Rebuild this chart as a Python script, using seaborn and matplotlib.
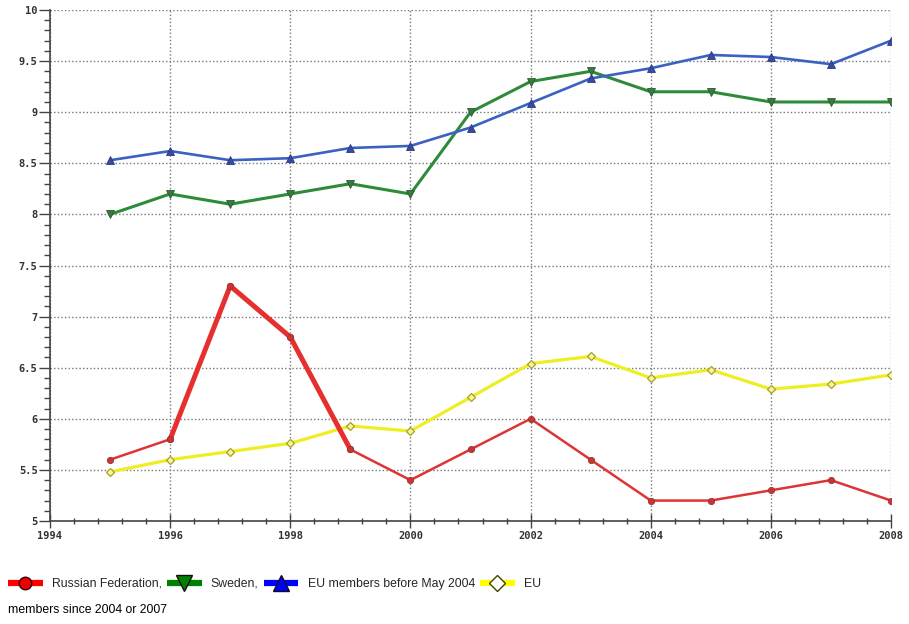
import matplotlib
matplotlib.use("Agg")
import matplotlib.pyplot as plt
from matplotlib.lines import Line2D
from matplotlib.ticker import MultipleLocator
import seaborn as sns
import pandas as pd

years = list(range(1995, 2009))
russia = [5.6, 5.8, 7.3, 6.8, 5.7, 5.4, 5.7, 6.0, 5.6, 5.2, 5.2, 5.3, 5.4, 5.2]
sweden = [8.0, 8.2, 8.1, 8.2, 8.3, 8.2, 9.0, 9.3, 9.4, 9.2, 9.2, 9.1, 9.1, 9.1]
eu_old = [8.53, 8.62, 8.53, 8.55, 8.65, 8.67, 8.85, 9.09, 9.33, 9.43, 9.56, 9.54, 9.47, 9.70]
eu_new = [5.48, 5.60, 5.68, 5.76, 5.93, 5.88, 6.21, 6.54, 6.61, 6.40, 6.48, 6.29, 6.34, 6.43]

x_ticks = list(range(1994, 2009, 2))
x_labels = [str(y) for y in x_ticks]
y_ticks = [5, 5.5, 6, 6.5, 7, 7.5, 8, 8.5, 9, 9.5, 10]
y_labels = ["5", "5.5", "6", "6.5", "7", "7.5", "8", "8.5", "9", "9.5", "10"]

legend_names = ["Russian Federation,", "Sweden,", "EU members before May 2004", "EU"]
legend_tail = "members since 2004 or 2007"

sns.set_theme(style="white")
plt.rcParams["font.family"] = ["Liberation Sans", "DejaVu Sans"]

df = pd.DataFrame({"year": years, "russia": russia, "sweden": sweden,
                   "eu_old": eu_old, "eu_new": eu_new})

fig = plt.figure(figsize=(9.09, 6.24), dpi=100)
ax = fig.add_axes([50 / 909, 1 - 521 / 624, (891 - 50) / 909, (521 - 10) / 624])

# EU members since 2004/2007
sns.lineplot(data=df, x="year", y="eu_new", ax=ax, color="#eeee22", lw=2.3,
             marker="D", markersize=4.5, markerfacecolor="#f6f6a0",
             markeredgecolor="#a8a020", markeredgewidth=0.9, zorder=3)
# Russian Federation: thin line with a heavier stretch 1996-1999
sns.lineplot(data=df, x="year", y="russia", ax=ax, color="#dd3535", lw=1.8,
             marker="o", markersize=4.5, markerfacecolor="#cc3333",
             markeredgecolor="#993333", markeredgewidth=0.6, zorder=4)
heavy = df[(df["year"] >= 1996) & (df["year"] <= 1999)]
sns.lineplot(data=heavy, x="year", y="russia", ax=ax, color="#e63030", lw=3.6,
             marker="o", markersize=4.5, markerfacecolor="#cc3333",
             markeredgecolor="#993333", markeredgewidth=0.6, zorder=4)
# Sweden
sns.lineplot(data=df, x="year", y="sweden", ax=ax, color="#2e8b3a", lw=2.2,
             marker="v", markersize=6, markerfacecolor="#3a7a40",
             markeredgecolor="#2a5a30", markeredgewidth=0.6, zorder=4)
# EU members before May 2004
sns.lineplot(data=df, x="year", y="eu_old", ax=ax, color="#3a62c0", lw=1.9,
             marker="^", markersize=6, markerfacecolor="#3a4aa0",
             markeredgecolor="#2a3a80", markeredgewidth=0.6, zorder=5)

ax.set_xlim(1994, 2008)
ax.set_ylim(5, 10)
ax.set_xticks(x_ticks)
ax.set_xticklabels(x_labels)
ax.set_yticks(y_ticks)
ax.set_yticklabels(y_labels)
ax.xaxis.set_minor_locator(MultipleLocator(0.4))
ax.yaxis.set_minor_locator(MultipleLocator(0.1))
ax.set_xlabel("")
ax.set_ylabel("")

for lab in ax.get_xticklabels() + ax.get_yticklabels():
    lab.set_fontfamily("DejaVu Sans Mono")
    lab.set_fontweight("bold")
    lab.set_fontsize(7.5)
    lab.set_color("#333333")

ax.tick_params(axis="x", which="major", direction="inout", length=10, width=1,
               color="#444444", pad=2, bottom=True)
ax.tick_params(axis="x", which="minor", direction="inout", length=4, width=1,
               color="#444444", bottom=True)
ax.tick_params(axis="y", which="major", direction="out", length=8, width=1,
               color="#444444", pad=1, left=True)
ax.tick_params(axis="y", which="minor", direction="out", length=4, width=1,
               color="#444444", left=True)

ax.grid(True, which="major", linestyle=(0, (1, 1.6)), color="#777777", lw=1.0)
for side in ("top", "right"):
    ax.spines[side].set_visible(False)
for side in ("left", "bottom"):
    ax.spines[side].set_color("#444444")
    ax.spines[side].set_linewidth(1.2)

handles = [
    Line2D([], [], color="#ff0000", lw=4.5, solid_capstyle="butt", marker="o",
           markersize=9, markerfacecolor="#ee0000", markeredgecolor="#330000",
           markeredgewidth=1),
    Line2D([], [], color="#008000", lw=4.5, solid_capstyle="butt", marker="v",
           markersize=11, markerfacecolor="#008000", markeredgecolor="#111111",
           markeredgewidth=1),
    Line2D([], [], color="#0000ff", lw=4.5, solid_capstyle="butt", marker="^",
           markersize=11, markerfacecolor="#0000ff", markeredgecolor="#111111",
           markeredgewidth=1),
    Line2D([], [], color="#ffff00", lw=4.5, solid_capstyle="butt", marker="D",
           markersize=8, markerfacecolor="#ffffff", markeredgecolor="#444400",
           markeredgewidth=1),
]
fig.legend(handles, legend_names, loc="center left", ncol=4,
           bbox_to_anchor=(8 / 909, 1 - 584 / 624), frameon=False,
           fontsize=8.8, handlelength=2.85, handletextpad=0.75,
           columnspacing=0.4, borderpad=0, borderaxespad=0, numpoints=1)
fig.text(8 / 909, 1 - 610 / 624, legend_tail, fontsize=8.8, va="center",
         ha="left", color="black")

fig.savefig("out.png", dpi=100)
